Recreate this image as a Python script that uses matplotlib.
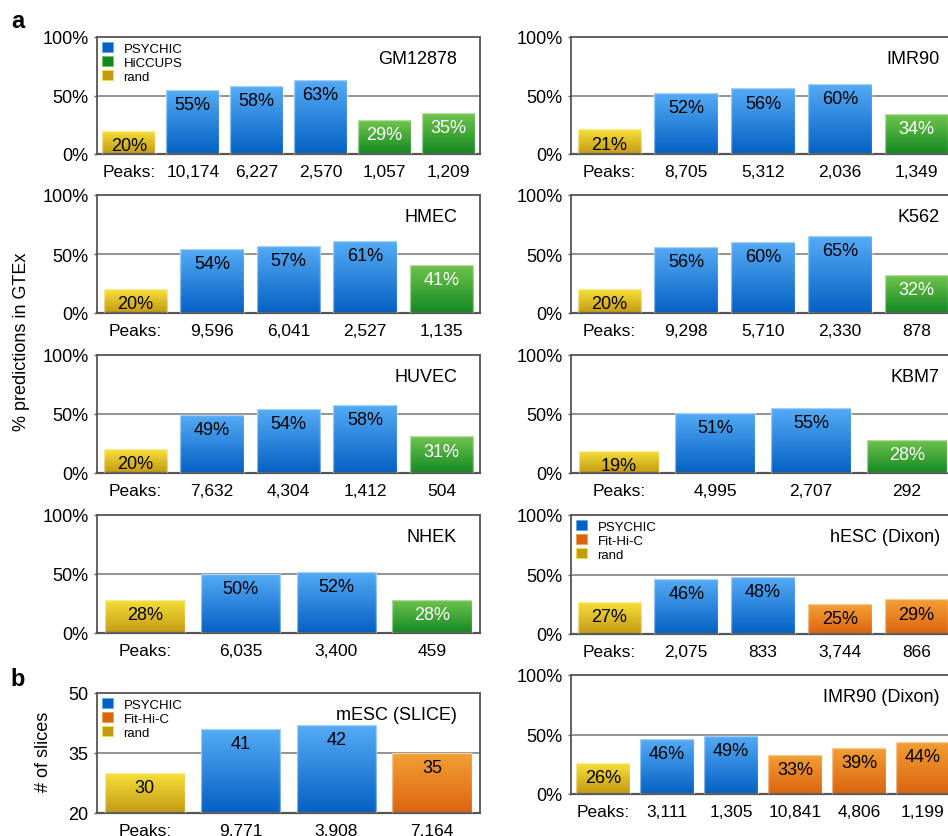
import matplotlib
matplotlib.use("Agg")
import matplotlib.pyplot as plt
import numpy as np
from matplotlib.colors import LinearSegmentedColormap
from matplotlib.patches import Patch

plt.rcParams['font.family'] = ['Liberation Sans', 'DejaVu Sans']

# method of each bar: r = rand, p = PSYCHIC, h = HiCCUPS, f = Fit-Hi-C
gm12878_kind = ["r", "p", "p", "p", "h", "h"]
gm12878_vals = [20, 55, 58, 63, 29, 35]
gm12878_peaks = ["10,174", "6,227", "2,570", "1,057", "1,209"]

imr90_kind = ["r", "p", "p", "p", "h"]
imr90_vals = [21, 52, 56, 60, 34]
imr90_peaks = ["8,705", "5,312", "2,036", "1,349"]

hmec_kind = ["r", "p", "p", "p", "h"]
hmec_vals = [20, 54, 57, 61, 41]
hmec_peaks = ["9,596", "6,041", "2,527", "1,135"]

k562_kind = ["r", "p", "p", "p", "h"]
k562_vals = [20, 56, 60, 65, 32]
k562_peaks = ["9,298", "5,710", "2,330", "878"]

huvec_kind = ["r", "p", "p", "p", "h"]
huvec_vals = [20, 49, 54, 58, 31]
huvec_peaks = ["7,632", "4,304", "1,412", "504"]

kbm7_kind = ["r", "p", "p", "h"]
kbm7_vals = [19, 51, 55, 28]
kbm7_peaks = ["4,995", "2,707", "292"]

nhek_kind = ["r", "p", "p", "h"]
nhek_vals = [28, 50, 52, 28]
nhek_peaks = ["6,035", "3,400", "459"]

hesc_kind = ["r", "p", "p", "f", "f"]
hesc_vals = [27, 46, 48, 25, 29]
hesc_peaks = ["2,075", "833", "3,744", "866"]

mesc_kind = ["r", "p", "p", "f"]
mesc_vals = [30, 41, 42, 35]
mesc_peaks = ["9,771", "3,908", "7,164"]

imr90d_kind = ["r", "p", "p", "f", "f", "f"]
imr90d_vals = [26, 46, 49, 33, 39, 44]
imr90d_peaks = ["3,111", "1,305", "10,841", "4,806", "1,199"]

# (top, bottom) of the vertical gradient for each method
grad = {
    "p": ("#55abf5", "#0461c4"),
    "h": ("#72c44e", "#138922"),
    "r": ("#f7e03a", "#c39a14"),
    "f": ("#f3a035", "#dc6410"),
}
label_col = {"p": "black", "h": "white", "r": "black", "f": "black"}
legend_names = {"p": "PSYCHIC", "h": "HiCCUPS", "f": "Fit-Hi-C", "r": "rand"}

W, H = 948, 837
fig = plt.figure(figsize=(W / 100, H / 100), dpi=100)


def add_axes(x0, x1, top, bottom):
    return fig.add_axes([x0 / W, 1 - bottom / H, (x1 - x0) / W, (bottom - top) / H])


def panel(ax, title, kind, vals, peaks, ylim=(0, 100), pct=True, legend=None,
          right=False):
    lo, hi = ylim
    mid = (lo + hi) / 2
    x = np.arange(len(vals))
    ax.axhline(mid, color="#8a8a8a", lw=1.3, zorder=1)
    bars = ax.bar(x, np.array(vals) - lo, bottom=lo, width=0.83,
                  facecolor="none", edgecolor=(1, 1, 1, 0.45), lw=1.0, zorder=3)
    g = np.linspace(0, 1, 128).reshape(-1, 1)
    for b, k, v in zip(bars, kind, vals):
        top, bot = grad[k]
        cmap = LinearSegmentedColormap.from_list("g", [bot, top])
        im = ax.imshow(g, extent=[b.get_x(), b.get_x() + b.get_width(), lo, v],
                       origin="lower", cmap=cmap, aspect="auto", zorder=2)
        im.set_clip_path(b)
        txt = f"{v}%" if pct else f"{v}"
        ax.annotate(txt, (b.get_x() + b.get_width() / 2, v), xytext=(0, -10.5),
                    textcoords="offset points", ha="center", va="center",
                    fontsize=13, color=label_col[k], zorder=4)
    ax.set_xlim(-0.5, len(vals) - 0.5)
    ax.set_ylim(lo, hi)
    ax.set_xticks(x)
    ax.set_xticklabels(["Peaks:"] + peaks, fontsize=12.5)
    ax.tick_params(axis="x", length=0, pad=7)
    ax.set_yticks([lo, mid, hi])
    if pct:
        ax.set_yticklabels([f"{lo}%", f"{int(mid)}%", f"{hi}%"])
    else:
        ax.set_yticklabels([f"{lo}", f"{int(mid)}", f"{hi}"])
    ax.tick_params(axis="y", length=2, width=1, color="#606060", labelsize=13, pad=4)
    for s in ax.spines.values():
        s.set_color("#555555")
        s.set_linewidth(1.3)
    ax.spines["bottom"].set_linewidth(1.6)
    tx = 0.96 if right else 0.94
    ax.text(tx, 0.82, title, transform=ax.transAxes, ha="right", va="center",
            fontsize=13)
    if legend:
        handles = [Patch(facecolor=grad[k][1], edgecolor=grad[k][0], lw=0.6)
                   for k in legend]
        ax.legend(handles, [legend_names[k] for k in legend], loc="upper left",
                  frameon=False, fontsize=9.5, handlelength=0.8, handleheight=0.8,
                  handletextpad=0.8, labelspacing=0.1, borderpad=0.2,
                  borderaxespad=0.2)


LX0, LX1 = 97, 480
RX0, RX1 = 571, 955

panel(add_axes(LX0, LX1, 38, 155), "GM12878", gm12878_kind, gm12878_vals,
      gm12878_peaks, legend=["p", "h", "r"])
panel(add_axes(RX0, RX1, 38, 155), "IMR90", imr90_kind, imr90_vals,
      imr90_peaks, right=True)
panel(add_axes(LX0, LX1, 196, 314), "HMEC", hmec_kind, hmec_vals, hmec_peaks)
panel(add_axes(RX0, RX1, 196, 314), "K562", k562_kind, k562_vals, k562_peaks,
      right=True)
panel(add_axes(LX0, LX1, 356, 474), "HUVEC", huvec_kind, huvec_vals,
      huvec_peaks)
panel(add_axes(RX0, RX1, 356, 474), "KBM7", kbm7_kind, kbm7_vals, kbm7_peaks,
      right=True)
panel(add_axes(LX0, LX1, 516, 634), "NHEK", nhek_kind, nhek_vals, nhek_peaks)
panel(add_axes(RX0, RX1, 516, 635), "hESC (Dixon)", hesc_kind, hesc_vals,
      hesc_peaks, legend=["p", "f", "r"], right=True)
panel(add_axes(LX0, LX1, 694, 814), "mESC (SLICE)", mesc_kind, mesc_vals,
      mesc_peaks, ylim=(20, 50), pct=False, legend=["p", "f", "r"])
panel(add_axes(RX0, RX1, 676, 795), "IMR90 (Dixon)", imr90d_kind, imr90d_vals,
      imr90d_peaks, right=True)

fig.text(18 / W, 1 - 21 / H, "a", fontsize=17, fontweight="bold",
         ha="center", va="center")
fig.text(18 / W, 1 - 680 / H, "b", fontsize=17, fontweight="bold",
         ha="center", va="center")
fig.text(22 / W, 1 - 342 / H, "% predictions in GTEx", rotation=90,
         fontsize=13, ha="center", va="center")
fig.text(43 / W, 1 - 752 / H, "# of slices", rotation=90,
         fontsize=13, ha="center", va="center")

fig.savefig("out.png", dpi=100)
